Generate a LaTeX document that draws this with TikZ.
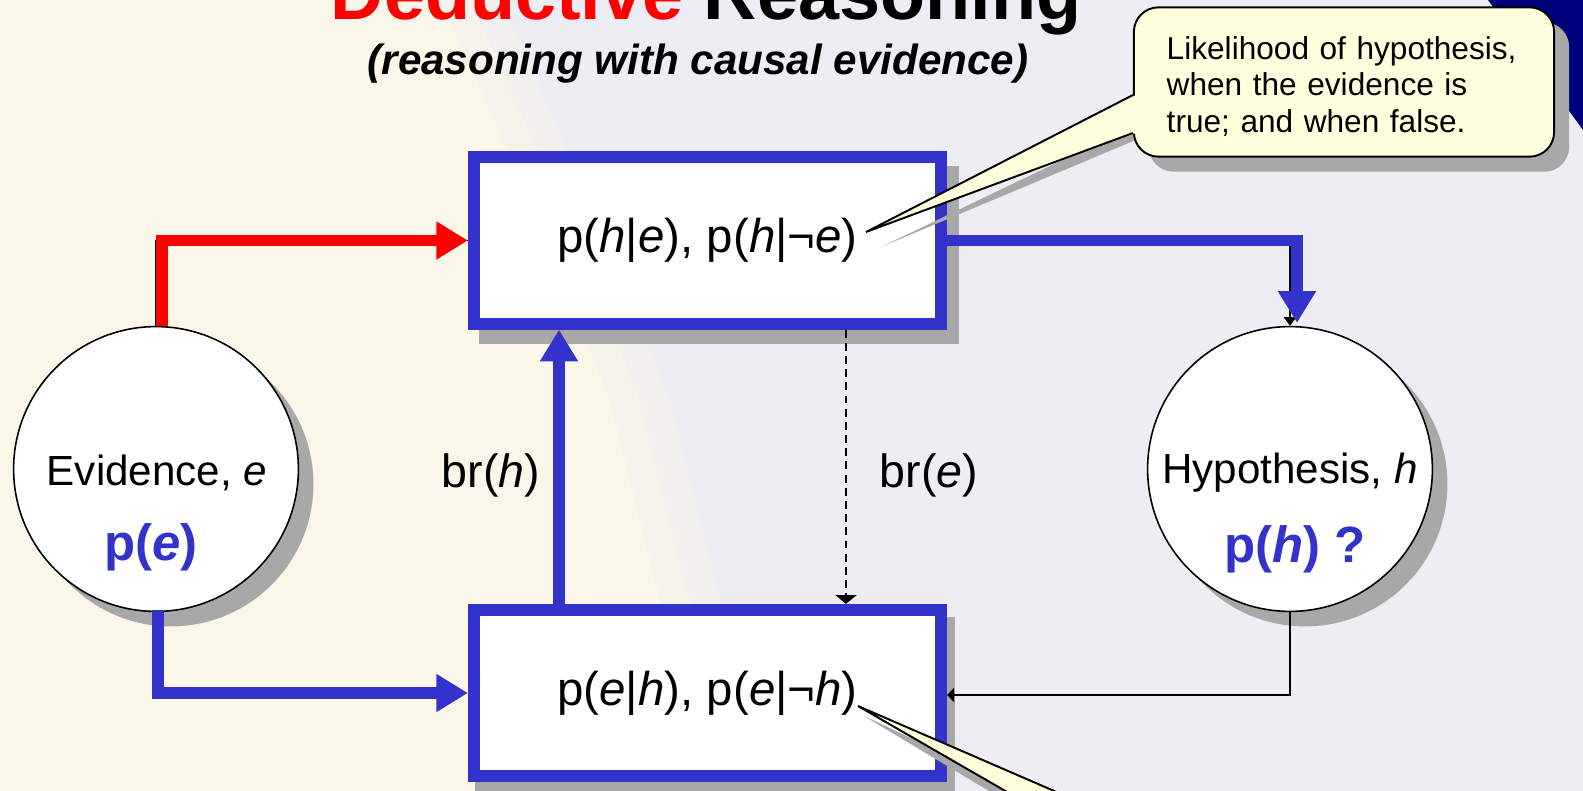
\documentclass[tikz,border=0pt]{standalone}
\usepackage{fontspec}
\setmainfont{Liberation Sans}
\usetikzlibrary{arrows.meta,calc}
\definecolor{cream}{HTML}{FAF6E8}
\definecolor{lav}{HTML}{EDEDF3}
\definecolor{dblue}{HTML}{3333CC}
\definecolor{callfill}{HTML}{FFFFDD}
\definecolor{shadowgray}{HTML}{A8A8A8}
\definecolor{navy}{HTML}{00007A}
\begin{document}
\begin{tikzpicture}[x=0.02cm,y=-0.02cm,
  circ/.style={circle,draw=black,line width=0.9pt,fill=white,minimum size=162.1pt,inner sep=0pt},
  circsh/.style={circle,fill=shadowgray,minimum size=162.1pt,inner sep=0pt},
  bbox/.style={rectangle,draw=dblue,line width=6.8pt,fill=white,minimum width=265.9pt,minimum height=94.7pt,inner sep=0pt,font=\fontsize{27}{32}\selectfont},
  bboxsh/.style={rectangle,fill=shadowgray,minimum width=272.7pt,minimum height=101.5pt,inner sep=0pt},
  lbl/.style={font=\fontsize{26.5}{32}\selectfont,anchor=base},
  ctext/.style={font=\fontsize{24}{28}\selectfont,anchor=base},
  ptext/.style={font=\fontsize{29}{34}\bfseries\selectfont,text=dblue,anchor=base},
  thickarrow/.style={line width=6.8pt,-{Triangle[length=18pt,width=20.5pt]}},
  thinline/.style={line width=0.9pt,black},
  callbox/.style={rectangle,rounded corners=14pt,draw=black,line width=1.1pt,fill=callfill,minimum width=239.2pt,minimum height=85pt,inner sep=0pt},
  calltext/.style={inner xsep=18.7pt,inner ysep=0pt,text width=201.8pt,align=left,font=\fontsize{18}{21}\selectfont},
  callsh/.style={rectangle,rounded corners=14pt,fill=shadowgray,minimum width=239.2pt,minimum height=85pt,inner sep=0pt},
]
\useasboundingbox (0,0) rectangle (1583,791);
\clip (0,0) rectangle (1583,791);
% background
\fill[lav] (0,0) rectangle (1583,791);
\fill[cream,opacity=0.35] (0,0) -- (500,0) -- (590,200) -- (670,400) -- (720,600) -- (740,791) -- (0,791) -- cycle;
\fill[cream,opacity=0.6] (0,0) -- (470,0) -- (560,200) -- (640,400) -- (690,600) -- (710,791) -- (0,791) -- cycle;
\fill[cream] (0,0) -- (440,0) -- (530,200) -- (610,400) -- (660,600) -- (680,791) -- (0,791) -- cycle;
\fill[navy] (1488,0) -- (1583,0) -- (1583,130) -- cycle;

% title
\node[anchor=base,font=\fontsize{42}{48}\bfseries\selectfont] (title) at (706,19) {\textcolor{red}{Deductive} Reasoning};
\node[anchor=base,font=\fontsize{24}{28}\bfseries\itshape\selectfont] (sub) at (698,74) {(reasoning with causal evidence)};

% circles
\node[circsh] (evsh) at (171,484) {};
\node[circ] (ev) at (156,469) {};
\node[circsh] (hypsh) at (1305,484) {};
\node[circ] (hyp) at (1290,469) {};
\node[ctext] (evt) at (157,485) {Evidence, \textit{e}};
\node[ptext] (evp) at (151,560) {p(\textit{e})};
\node[ctext] (hypt) at (1290,483) {Hypothesis, \textit{h}};
\node[ptext] (hypp) at (1295,562) {p(\textit{h}) ?};

% boxes
\node[bboxsh] (topsh) at (719,255) {};
\node[bbox] (top) at (707.5,240.5) {p(\textit{h}|\textit{e}), p(\textit{h}|¬\textit{e})};
\node[bboxsh] (botsh) at (715,706) {};
\node[bbox] (bot) at (707.5,693) {p(\textit{e}|\textit{h}), p(\textit{e}|¬\textit{h})};

% labels
\node[lbl] (brh) at (491,487) {br(\textit{h})};
\node[lbl] (bre) at (929,487) {br(\textit{e})};

% connectors
\draw[thinline] (ev.north) |- (top.west);
\draw[thickarrow,red] ($(ev.north)+(6,0)$) |- (top.west);
\draw[thinline,-{Triangle[length=5pt,width=7pt]}] (top.east) -| (hyp.north);
\draw[thickarrow,dblue] (top.east) -| ($(hyp.north)+(7,-3)$);
\draw[thickarrow,dblue] ($(bot.north)+(-148.5,0)$) -- ($(top.south)+(-148.5,0)$);
\draw[line width=1.4pt,dash pattern=on 4.5pt off 3pt,-{Triangle[length=5pt,width=12pt]}] ($(top.south)+(138.5,0)$) -- ($(bot.north)+(138.5,0)$);
\draw[thickarrow,dblue] ($(ev.south)+(2,-2)$) |- (bot.west);
\draw[thinline,-{Triangle[length=4pt,width=8pt]}] (hyp.south) |- ($(bot.east)+(0,2)$);

% top callout
\node[callsh] (notesh) at (1359,97) {};
\fill[shadowgray] (881,247) -- (1150,118) -- (1150,134) -- cycle;
\node[callbox] (note) at (1344,82) {};
\node[calltext] (notet) at (1344,86.5) {Likelihood of hypothesis,\\ when the evidence is\\ true; and when false.};
\coordinate (tipA) at (866,232);
\fill[callfill] (tipA) -- (1136,95) -- (1136,133) -- cycle;
\draw[line width=1.1pt] (1133,95) -- (tipA) -- (1133,133);

% bottom callout (pointer only)
\coordinate (tipB) at (858,706);
\fill[shadowgray] ($(tipB)+(6,10)$) -- (1075,815) -- (1029,815) -- cycle;
\fill[callfill] (tipB) -- (1075,800) -- (1021,800) -- cycle;
\draw[line width=1.1pt] (1075,800) -- (tipB) -- (1021,800);
\end{tikzpicture}
\end{document}
